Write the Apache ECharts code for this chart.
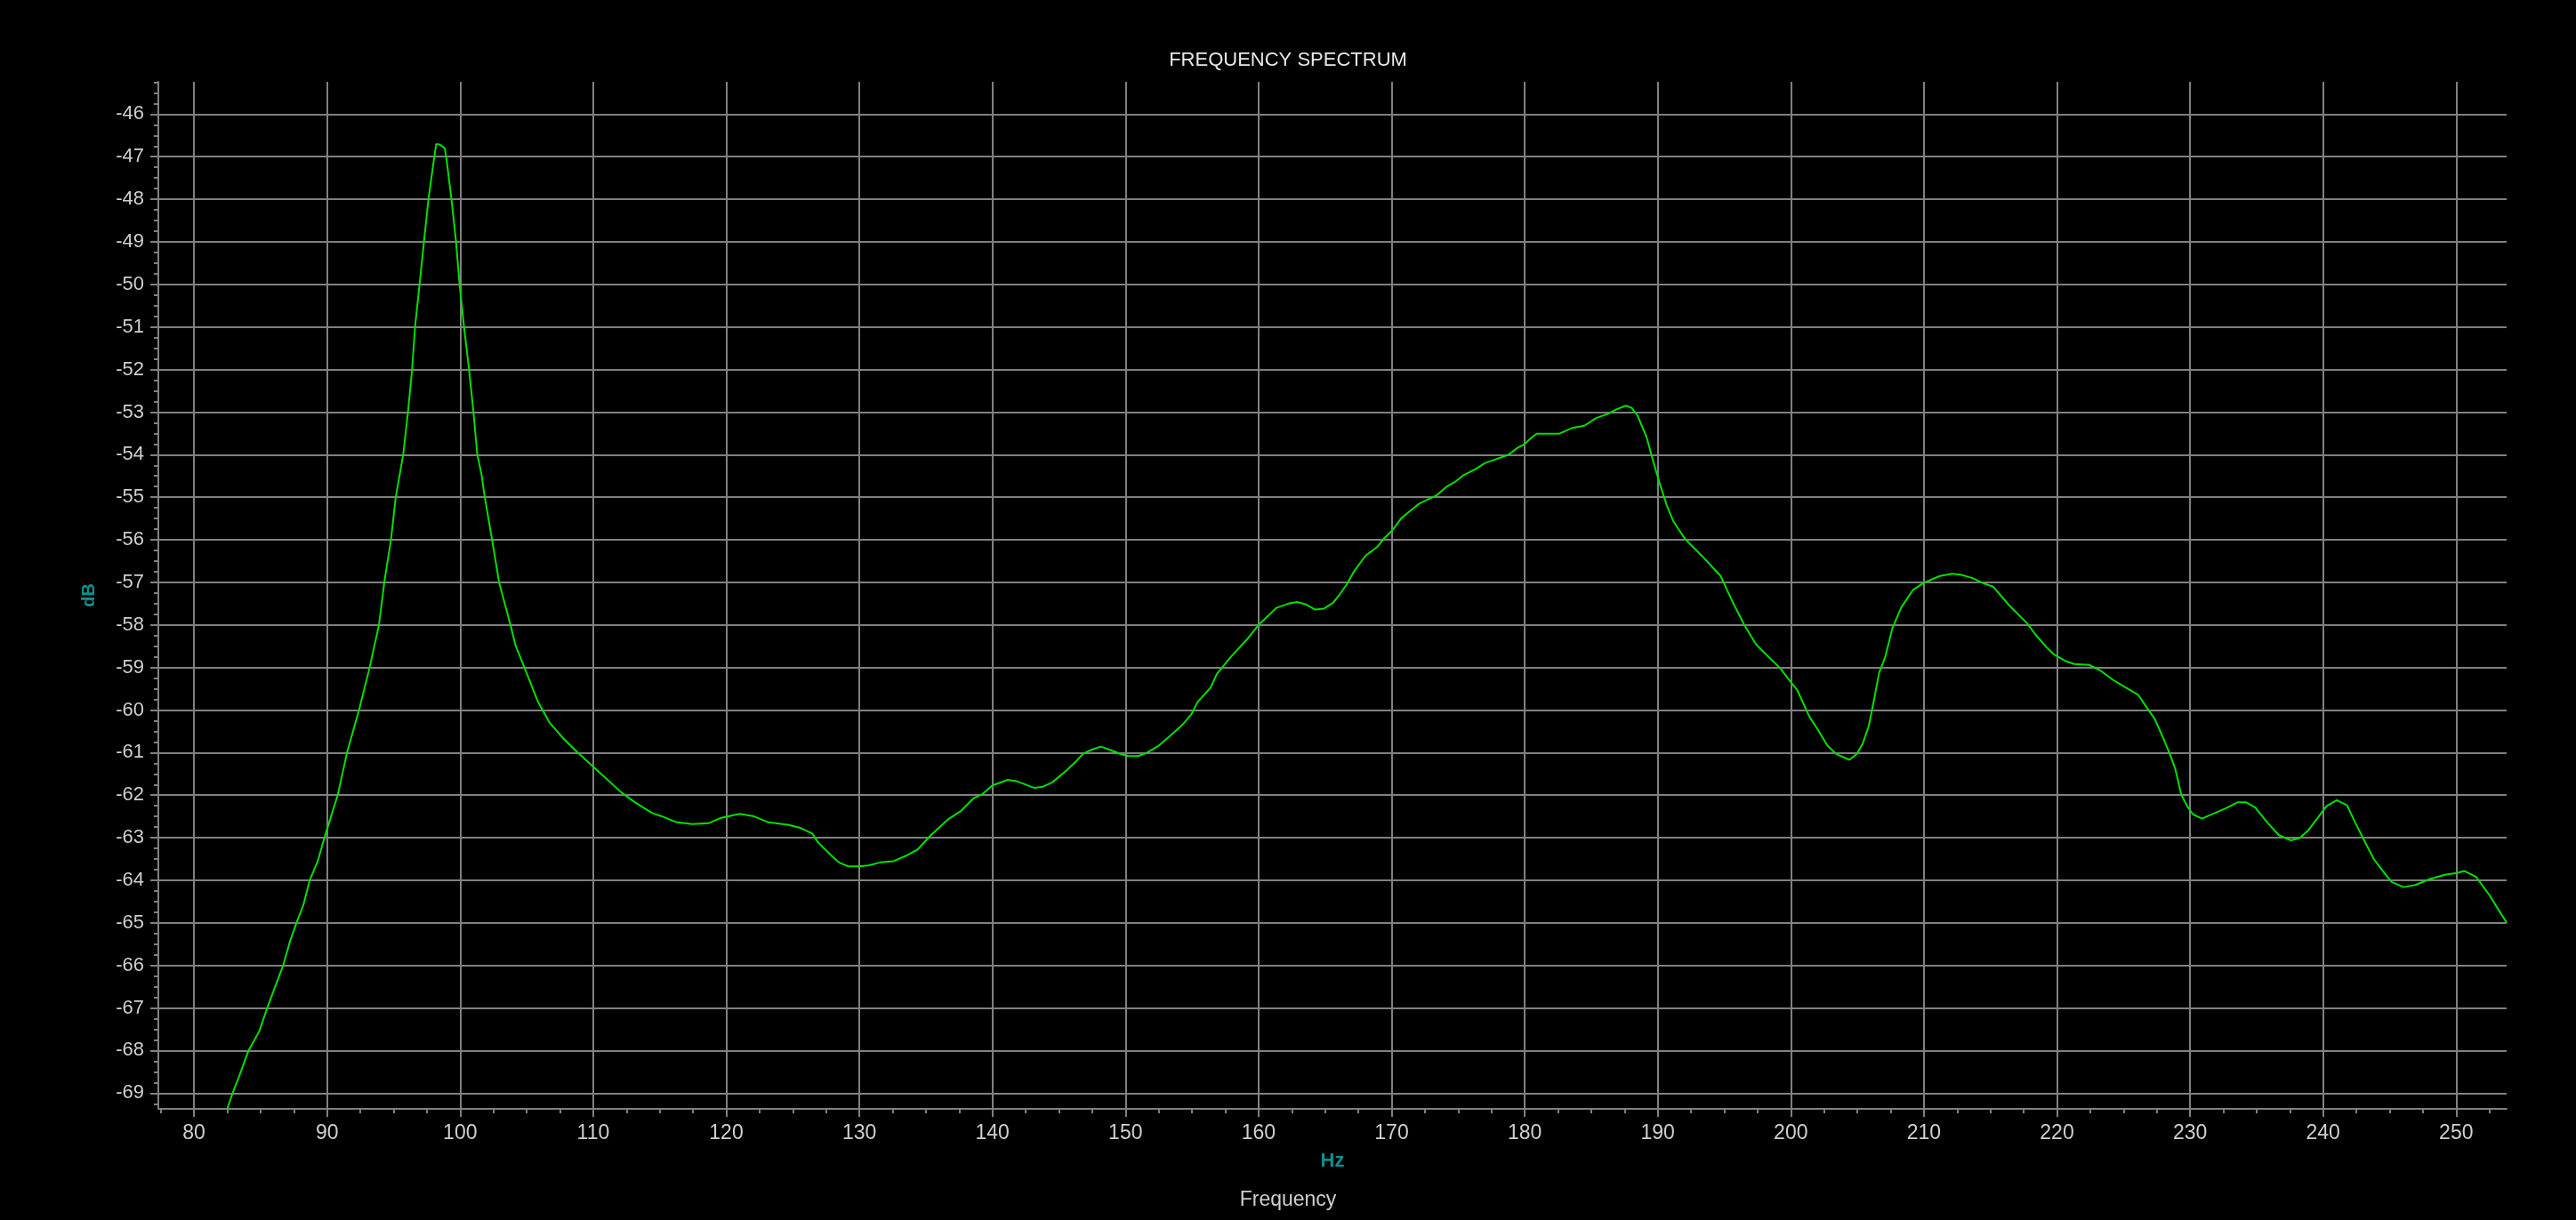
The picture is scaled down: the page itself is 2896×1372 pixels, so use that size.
<!DOCTYPE html>
<html>
<head>
<meta charset="utf-8">
<script src="https://cdn.jsdelivr.net/npm/echarts@6/dist/echarts.min.js"></script>
<style>
html,body{margin:0;padding:0;background:#000;}
#chart{width:2896px;height:1372px;}
</style>
</head>
<body>
<div id="chart"></div>
<script>
// ---- data ----
const freqHz = [
82.5,82.9,83.4,84.1,84.9,85.5,86.1,86.7,87.2,87.7,88.2,88.7,89.3,89.8,90.3,90.8,91.5,92.4,93.2,93.9,
94.3,94.8,95.16,95.72,96.08,96.39,96.61,96.95,97.28,97.62,98.06,98.2,98.5,98.84,98.95,99.35,99.69,99.96,100.29,100.67,
101.0,101.29,101.6,101.85,102.4,102.93,103.78,104.16,104.83,105.84,106.73,107.85,108.75,110.0,
112.1,113.1,114.43,115.1,116.2,117.44,118.66,119.55,121.0,
122.0,123.1,124.7,125.57,126.46,126.9,127.8,128.46,129.13,129.93,130.69,131.58,132.58,133.6,134.37,135.37,136.7,137.6,138.6,139.27,
140.0,141.16,141.8,143.16,143.8,144.5,145.6,146.3,146.84,147.47,148.14,148.8,149.6,150.16,150.94,151.5,152.4,153.3,154.3,154.97,
155.4,156.4,156.87,157.87,159.1,160.0,161.34,162.24,162.9,163.58,164.25,164.9,165.6,166.04,166.6,167.16,168.05,168.95,169.4,170.07,
170.74,171.4,172.08,173.4,174.1,174.77,175.4,176.3,177.0,177.9,178.8,179.46,180.0,180.58,180.9,182.58,183.59,184.48,185.37,186.26,
186.93,187.6,188.04,188.49,189.15,189.49,189.82,190.27,190.71,191.16,192.05,193.39,194.72,195.61,196.5,197.39,198.29,199.18,199.96,200.5,
201.4,202.07,202.74,203.4,204.4,204.97,205.4,205.86,206.3,206.64,207.08,207.64,208.3,209.2,210.0,211.2,212.1,212.76,213.65,214.54,
215.2,216.41,217.75,218.42,219.2,219.76,220.65,221.3,222.43,223.3,224.2,225.1,226.1,226.77,227.33,227.88,228.44,228.89,229.33,229.78,
230.22,230.89,231.78,232.67,233.56,234.23,234.9,235.8,236.68,237.57,238.24,238.9,239.58,240.25,241.03,241.8,242.36,243.03,243.81,244.48,
245.15,246.04,246.93,248.04,249.15,250.04,250.6,251.5,252.5,253.3,253.8
];
const levelDb = [
-69.37,-69.0,-68.6,-68.0,-67.55,-67.0,-66.5,-66.0,-65.45,-65.0,-64.6,-64.0,-63.55,-63.0,-62.5,-62.0,-61.0,-60.0,-59.0,-58.0,
-57.0,-56.0,-55.0,-54.0,-53.0,-52.0,-51.0,-50.0,-49.0,-48.0,-47.0,-46.7,-46.72,-46.8,-47.0,-48.0,-49.0,-50.0,-51.0,-52.0,
-53.0,-54.0,-54.45,-55.0,-56.0,-57.0,-58.0,-58.48,-59.0,-59.8,-60.3,-60.7,-60.97,-61.33,
-61.93,-62.16,-62.42,-62.49,-62.63,-62.68,-62.66,-62.54,-62.44,
-62.49,-62.63,-62.7,-62.77,-62.9,-63.11,-63.39,-63.58,-63.67,-63.67,-63.65,-63.58,-63.55,-63.41,-63.28,-62.94,-62.56,-62.38,-62.07,-61.97,
-61.77,-61.64,-61.67,-61.83,-61.8,-61.7,-61.41,-61.2,-61.02,-60.93,-60.86,-60.93,-61.03,-61.08,-61.08,-61.02,-60.86,-60.62,-60.34,-60.09,
-59.82,-59.47,-59.15,-58.77,-58.35,-58.0,-57.6,-57.5,-57.46,-57.52,-57.64,-57.62,-57.48,-57.31,-57.06,-56.75,-56.37,-56.16,-55.98,-55.77,
-55.49,-55.32,-55.15,-54.95,-54.76,-54.64,-54.48,-54.34,-54.2,-54.1,-54.0,-53.84,-53.75,-53.58,-53.51,-53.51,-53.37,-53.32,-53.14,-53.04,
-52.93,-52.85,-52.9,-53.09,-53.58,-53.96,-54.34,-54.8,-55.22,-55.56,-55.98,-56.4,-56.85,-57.45,-58.0,-58.46,-58.74,-59.01,-59.33,-59.54,
-60.16,-60.48,-60.83,-61.03,-61.17,-61.03,-60.79,-60.37,-59.68,-59.12,-58.77,-58.07,-57.59,-57.17,-57.01,-56.85,-56.8,-56.82,-56.9,-57.03,
-57.1,-57.54,-57.96,-58.24,-58.52,-58.69,-58.85,-58.92,-58.94,-59.08,-59.29,-59.46,-59.64,-59.95,-60.2,-60.58,-61.0,-61.38,-61.98,-62.26,
-62.45,-62.55,-62.43,-62.31,-62.17,-62.17,-62.29,-62.64,-62.94,-63.06,-63.01,-62.82,-62.54,-62.26,-62.12,-62.24,-62.61,-63.03,-63.5,-63.78,
-64.04,-64.16,-64.11,-63.97,-63.87,-63.83,-63.78,-63.92,-64.35,-64.75,-65.0
];

// tick labels / tick positions
const xMajorTicks = [80,90,100,110,120,130,140,150,160,170,180,190,200,210,220,230,240,250];
const xMinorTicks = [77.5,82.5,85,87.5,92.5,95,97.5,102.5,105,107.5,112.5,115,117.5,122.5,125,127.5,132.5,135,137.5,
  142.5,145,147.5,152.5,155,157.5,162.5,165,167.5,172.5,175,177.5,182.5,185,187.5,192.5,195,197.5,202.5,205,207.5,
  212.5,215,217.5,222.5,225,227.5,232.5,235,237.5,242.5,245,247.5,252.5];
const yMajorTicks = [-69,-68,-67,-66,-65,-64,-63,-62,-61,-60,-59,-58,-57,-56,-55,-54,-53,-52,-51,-50,-49,-48,-47,-46];
const yMinorTicks = [-69.25,-68.75,-68.5,-68.25,-67.75,-67.5,-67.25,-66.75,-66.5,-66.25,-65.75,-65.5,-65.25,
  -64.75,-64.5,-64.25,-63.75,-63.5,-63.25,-62.75,-62.5,-62.25,-61.75,-61.5,-61.25,-60.75,-60.5,-60.25,
  -59.75,-59.5,-59.25,-58.75,-58.5,-58.25,-57.75,-57.5,-57.25,-56.75,-56.5,-56.25,-55.75,-55.5,-55.25,
  -54.75,-54.5,-54.25,-53.75,-53.5,-53.25,-52.75,-52.5,-52.25,-51.75,-51.5,-51.25,-50.75,-50.5,-50.25,
  -49.75,-49.5,-49.25,-48.75,-48.5,-48.25,-47.75,-47.5,-47.25,-46.75,-46.5,-46.25,-45.75,-45.5,-45.25];

const X_MIN = 77.32, X_MAX = 253.79, Y_MIN = -69.37, Y_MAX = -45.24;

const GRID = '#808080';
const TXT = '#cfcfcf';
const FONT = '"Liberation Sans", Arial, sans-serif';

const chart = echarts.init(document.getElementById('chart'), null, {renderer:'canvas'});
chart.setOption({
  backgroundColor: '#000000',
  animation: false,
  title: {
    text: 'FREQUENCY SPECTRUM',
    left: 'center',
    top: 52,
    textStyle: {color: '#e8e8e8', fontSize: 22, fontWeight: 'normal', fontFamily: FONT}
  },
  graphic: [{
    type: 'text',
    left: 'center',
    top: 1338,
    style: {text: 'Frequency', fill: TXT, fontSize: 23, fontFamily: FONT}
  }],
  grid: {left: 178, right: 78, top: 92, bottom: 125, containLabel: false},
  xAxis: [{
    type: 'value', min: X_MIN, max: X_MAX, position: 'bottom',
    name: 'Hz', nameLocation: 'middle', nameGap: 48,
    nameTextStyle: {color: '#0f8e8e', fontSize: 22, fontWeight: 'bold', fontFamily: FONT},
    axisLine: {show: true, onZero: false, lineStyle: {color: GRID, width: 2}},
    axisTick: {show: true, length: 9, customValues: xMajorTicks, lineStyle: {color: GRID, width: 2}},
    axisLabel: {show: true, customValues: xMajorTicks, margin: 16, color: TXT, fontSize: 23, fontFamily: FONT},
    splitLine: {show: true, lineStyle: {color: GRID, width: 2}}
  }, {
    type: 'value', min: X_MIN, max: X_MAX, position: 'bottom', offset: 0,
    axisLine: {show: false, onZero: false},
    axisTick: {show: true, length: 5, customValues: xMinorTicks, lineStyle: {color: GRID, width: 2}},
    axisLabel: {show: false},
    splitLine: {show: false}
  }],
  yAxis: [{
    type: 'value', min: Y_MIN, max: Y_MAX, position: 'left',
    name: 'dB', nameLocation: 'middle', nameGap: 68, nameRotate: 90,
    nameTextStyle: {color: '#0f8e8e', fontSize: 20, fontWeight: 'bold', fontFamily: FONT},
    axisLine: {show: true, onZero: false, lineStyle: {color: GRID, width: 2}},
    axisTick: {show: true, length: 9, customValues: yMajorTicks, lineStyle: {color: GRID, width: 2}},
    axisLabel: {show: true, customValues: yMajorTicks, margin: 16, color: TXT, fontSize: 22, fontFamily: FONT},
    splitLine: {show: true, lineStyle: {color: GRID, width: 2}}
  }, {
    type: 'value', min: Y_MIN, max: Y_MAX, position: 'left', offset: 0,
    axisLine: {show: false, onZero: false},
    axisTick: {show: true, length: 5, customValues: yMinorTicks, lineStyle: {color: GRID, width: 2}},
    axisLabel: {show: false},
    splitLine: {show: false}
  }],
  series: [{
    type: 'line',
    xAxisIndex: 0, yAxisIndex: 0,
    data: freqHz.map((f, i) => [f, levelDb[i]]),
    showSymbol: false, symbol: 'none',
    smooth: false,
    clip: true,
    lineStyle: {color: '#00e000', width: 2},
    silent: true
  }]
});
</script>
</body>
</html>
